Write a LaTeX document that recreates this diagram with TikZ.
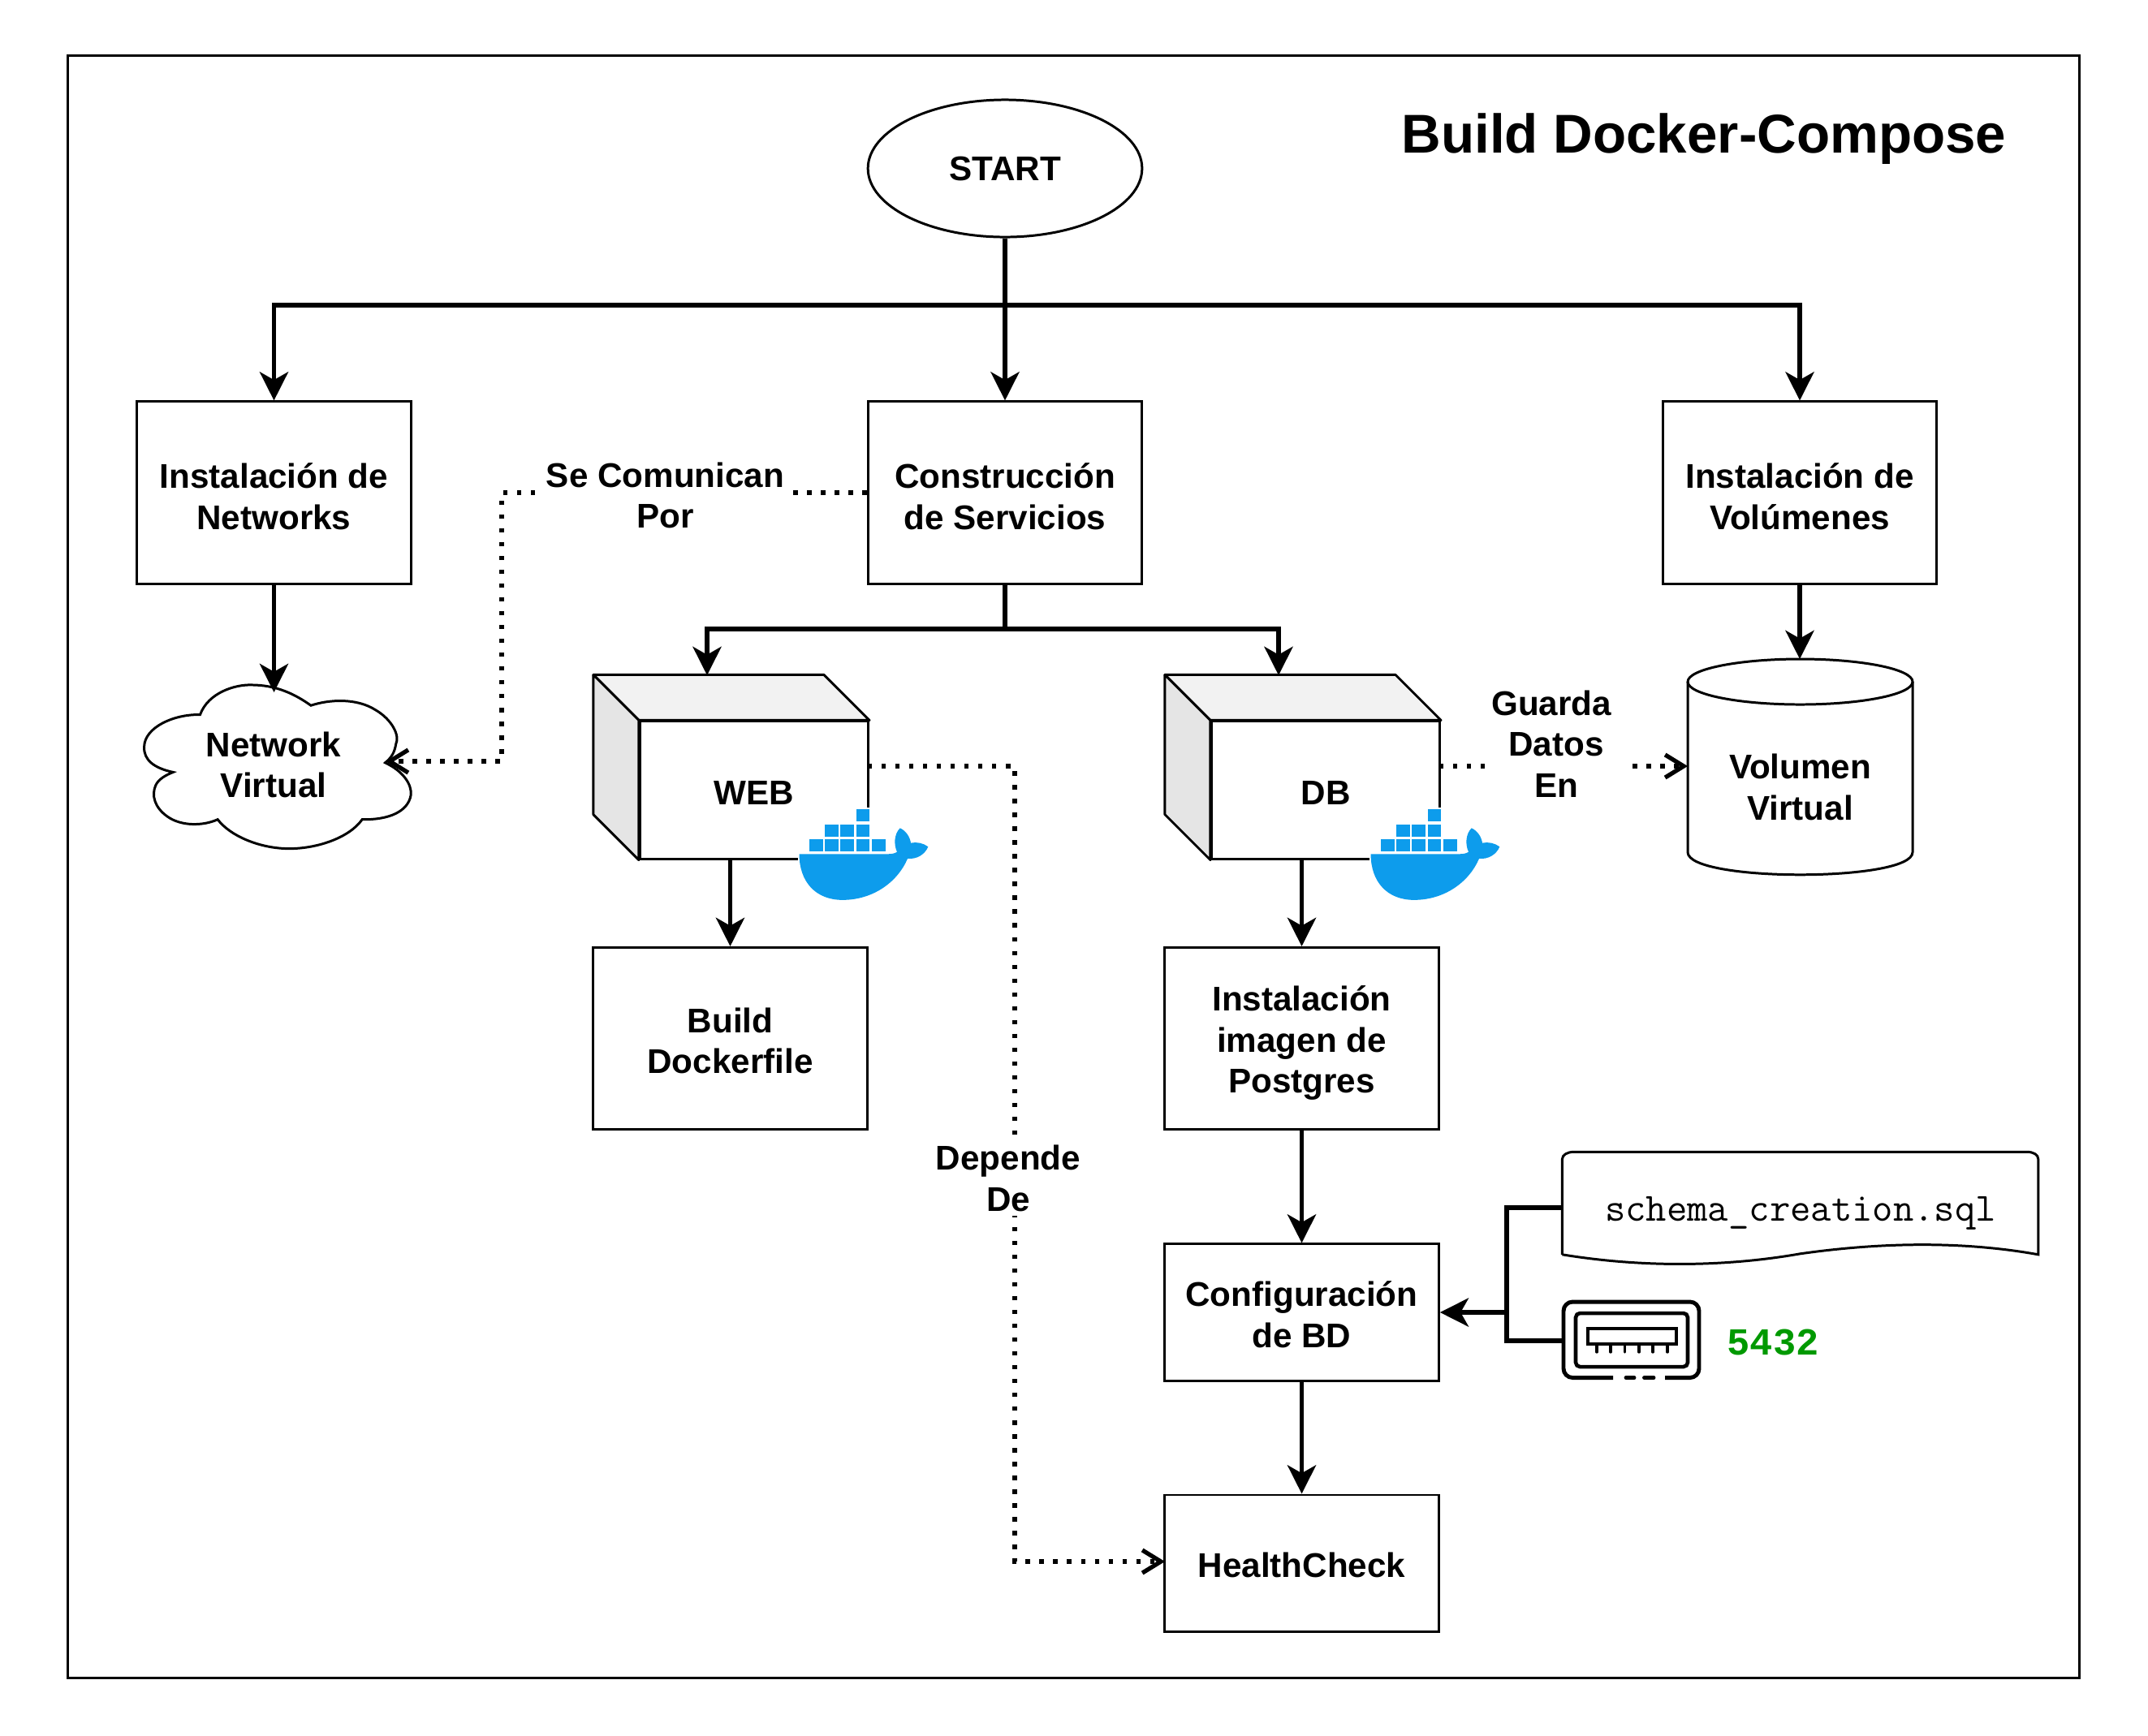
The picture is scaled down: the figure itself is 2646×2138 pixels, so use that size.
\documentclass[tikz,border=0pt]{standalone}
\usepackage{fontspec}
\setmainfont{Liberation Sans}
\newfontfamily\monobold{Liberation Mono}
\usepackage{xcolor}
\usepackage{tikz}
\usetikzlibrary{arrows.meta,calc,shapes.geometric}
\definecolor{whaleblue}{HTML}{0D9CEC}
\definecolor{portgreen}{HTML}{009900}
\newcommand{\dockerwhale}[1]{%
  \begin{scope}[shift={(#1,800)},x=0.003333cm,y=-0.003333cm]
    \fill[white] (850,585) rectangle (1340,930);
    \foreach \bx/\by in {892/702,950/702,1008/702,1066/702,1124/702,950/648,1008/648,1066/648,1066/593}
      \fill[whaleblue] (\bx,\by) rectangle ++(50,45);
    \fill[whaleblue] (855,758) -- (1185,758) .. controls (1200,758) and (1210,755) .. (1217,750)
      .. controls (1205,725) and (1205,685) .. (1228,662) .. controls (1250,672) and (1265,695) .. (1268,717)
      .. controls (1290,712) and (1315,718) .. (1332,731) .. controls (1320,760) and (1290,778) .. (1256,775)
      .. controls (1220,860) and (1130,928) .. (1015,928) .. controls (915,928) and (855,860) .. (855,758) -- cycle;
  \end{scope}}
\newcommand{\cubesides}[1]{%
  \draw[edge,line join=round,fill=black!5] (#1.north west) -- ++(-56,-56) -- ($(#1.north east)+(-56,-56)$) -- (#1.north east) -- cycle;
  \draw[edge,line join=round,fill=black!10] (#1.north west) -- ++(-56,-56) -- ($(#1.south west)+(-56,-56)$) -- (#1.south west) -- cycle;}
\newcommand{\lowtext}[1]{\rule{0pt}{#1pt}}

\begin{document}
\begin{tikzpicture}[
  x=0.01cm,y=-0.01cm,
  font=\fontsize{12}{14.4}\selectfont\bfseries,
  edge/.style={line width=0.85pt, line join=miter},
  boxnode/.style={draw, edge, align=center, inner sep=0pt, minimum width=3.375cm, minimum height=2.24cm, execute at begin node={\rule{0pt}{10.1pt}}},
  flow/.style={-{Stealth[length=10pt, width=10pt, inset=2.8pt]}, line width=1.5pt},
  link/.style={line width=1.5pt},
  dots/.style={-{Straight Barb[length=6.5pt, width=8pt, line width=1.5pt]}, line width=1.5pt, dash pattern=on 1.5pt off 3.34pt},
  lbl/.style={fill=white, inner sep=1.5pt, align=center},
]
\useasboundingbox (0,0) rectangle (2646,2138);
\node[draw, edge, minimum width=24.76cm, minimum height=19.97cm] (frame) at (1322.5,1068) {};
\node[font=\fontsize{19.15}{23}\selectfont\bfseries] (title) at (2099,171) {Build Docker-Compose};

% top row
\node[draw, edge, ellipse, minimum width=3.375cm, minimum height=1.69cm, inner sep=0pt] (start) at (1238,207.5) {START};
\node[boxnode] (net) at (337.5,607) {\lowtext{11.3}Instalación de\\Networks};
\node[boxnode] (serv) at (1238,607) {\lowtext{11.3}Construcción\\de Servicios};
\node[boxnode] (vols) at (2217,607) {\lowtext{11.3}Instalación de\\Volúmenes};

% cloud
\begin{scope}[shift={(150,800)},x=0.003333cm,y=-0.003333cm]
  \draw[edge] (290,242) .. controls (320,160) and (420,130) .. (480,132) .. controls (570,132) and (640,165) .. (700,208)
    .. controls (770,185) and (870,180) .. (940,225) .. controls (1000,260) and (1030,320) .. (1015,350)
    .. controls (1010,380) and (1000,400) .. (975,420) .. controls (1040,450) and (1075,500) .. (1070,540)
    .. controls (1060,600) and (990,632) .. (890,630) .. controls (840,700) and (720,738) .. (620,738)
    .. controls (510,738) and (400,690) .. (355,630) .. controls (300,655) and (220,655) .. (170,620)
    .. controls (120,585) and (110,540) .. (125,505) .. controls (135,480) and (165,465) .. (190,455)
    .. controls (120,440) and (80,410) .. (83,360) .. controls (85,290) and (190,240) .. (290,242) -- cycle;
\end{scope}
\node[align=center] (cloud) at (337,942.5) {Network\\Virtual};
\coordinate (cloudtop) at (337.5,853);
\coordinate (cloudin) at (475,938);

% services
\node[boxnode, minimum width=2.81cm, minimum height=1.69cm] (web) at (929,973.5) {WEB};
\node[boxnode, minimum width=2.81cm, minimum height=1.69cm] (db) at (1633,973.5) {DB};
\cubesides{web}
\cubesides{db}
\dockerwhale{700}
\dockerwhale{1404}
\coordinate (webtop) at (871,832);
\coordinate (dbtop) at (1575,832);
\coordinate (webdown) at (899.5,1058);
\coordinate (dbdown) at (1603.5,1058);
\coordinate (webout) at (1069,944);
\coordinate (dbout) at (1773,944);

\node[boxnode] (build) at (899.5,1279.5) {\lowtext{10.4}Build\\Dockerfile};
\node[boxnode] (img) at (1603.5,1279.5) {\lowtext{12.1}Instalación\\imagen de\\Postgres};
\node[boxnode, minimum height=1.68cm] (conf) at (1603.5,1617) {\lowtext{10.4}Configuración\\de BD};
\node[boxnode, minimum height=1.68cm] (health) at (1603.5,1926) {HealthCheck};

% volume
\draw[edge] (2079,840) -- (2079,1050) .. controls (2079,1087) and (2356,1087) .. (2356,1050) -- (2356,840);
\draw[edge] (2217.5,840) ellipse (138.5 and 28);
\node[align=center] (vol) at (2217.5,970) {Volumen\\Virtual};
\coordinate (voltop) at (2217,812);
\coordinate (volin) at (2079,944);

% sql file
\begin{scope}[shift={(1750,1400)},x=0.005102cm,y=-0.003333cm]
  \draw[edge] (342,438) -- (342,85) .. controls (342,68) and (355,58) .. (370,58) -- (1465,58)
    .. controls (1480,58) and (1492,68) .. (1492,85) -- (1492,438)
    .. controls (1300,385) and (1100,395) .. (917,435) .. controls (750,480) and (550,490) .. (342,438);
\end{scope}
\node[minimum width=5.86cm, inner sep=0pt, font=\fontsize{14}{16}\selectfont\ttfamily] (sql) at (2218,1488) {\lowtext{12.3}schema\_creation.sql};

% port icon
\node[minimum width=1.69cm, minimum height=0.96cm, inner sep=0pt] (port) at (2009.5,1652) {};
\draw[line width=1.4pt, rounded corners=3.2pt] (1987,1697.5) -- (1926,1697.5) -- (1926,1604) -- (2093,1604) -- (2093,1697.5) -- (2051,1697.5);
\draw[line width=1.4pt, line cap=round] (2003,1697.5) -- (2013,1697.5) (2025.5,1697.5) -- (2037,1697.5);
\draw[line width=1.3pt, rounded corners=1.5pt] (1941,1618) rectangle (2079,1684);
\draw[line width=1.2pt] (1956,1637) rectangle (2065,1656);
\foreach \pinx in {1967,1984,2001.5,2019,2036,2054}
  \draw[line width=0.9pt, line cap=round] (\pinx,1656) -- (\pinx,1666);
\node[text=portgreen, font=\fontsize{13.4}{16}\selectfont\monobold\bfseries] (portnum) at (2184,1654) {5432};

% solid connectors
\coordinate (bus) at (1238,376);
\draw[flow] (start.south) -- (serv.north);
\draw[flow] (bus) -| (net.north);
\draw[flow] (bus) -| (vols.north);
\draw[flow] (net.south) -- (cloudtop);
\draw[flow] (vols.south) -- (voltop);
\coordinate (servbus) at (1238,775);
\draw[flow] (serv.south) -- (servbus) -| (webtop);
\draw[flow] (servbus) -| (dbtop);
\draw[flow] (webdown) -- (build.north);
\draw[flow] (dbdown) -- (img.north);
\draw[flow] (img.south) -- (conf.north);
\draw[flow] (conf.south) -- (health.north);
\coordinate (merge) at (1856,1617);
\draw[flow] (merge) -- (conf.east);
\draw[link] (sql.west) -| (merge) |- (port.west);

% dotted connectors
\coordinate (healthin) at (1435,1924);
\draw[dots] (serv.west) -| (618,938) -- (cloudin);
\node[lbl] (lblcom) at (819.5,610.5) {Se Comunican\\Por};
\draw[dots] (webout) -| (1250,1924) -- (healthin);
\node[lbl] (lbldep) at (1242,1452) {Depende\\De};
\draw[dots] (dbout) -- (volin);
\node[lbl] (lblsave) at (1917,916.5) {Guarda\hspace*{.28em}\\Datos\\En};
\end{tikzpicture}
\end{document}
